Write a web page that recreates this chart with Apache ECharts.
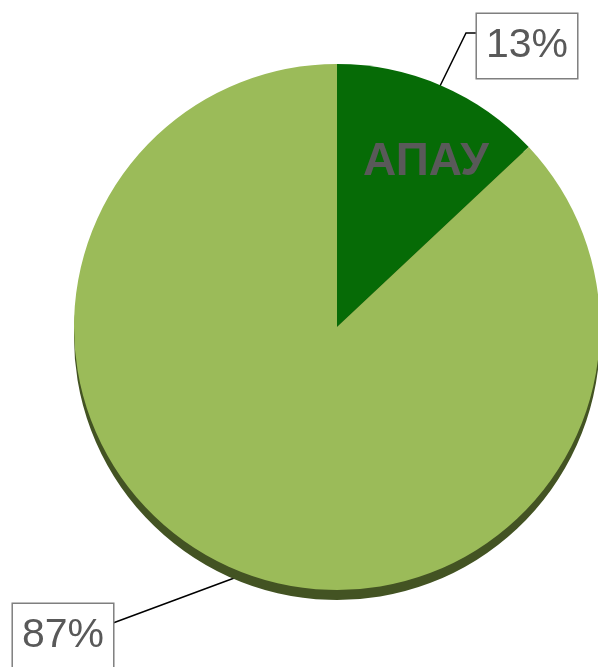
<!DOCTYPE html>
<html>
<head>
<meta charset="utf-8">
<script src="https://cdn.jsdelivr.net/npm/echarts@6/dist/echarts.min.js"></script>
<style>
  html, body { margin: 0; padding: 0; background: #fff; }
  #pieChart { width: 598px; height: 667px; }
</style>
</head>
<body>
<div id="pieChart"></div>
<script>
var categories = ['АПАУ', ''];
var values = [13, 87];
var sliceColors = ['#066b06', '#9bbb59'];

(function () {
    var dom = document.getElementById('pieChart');
    var myChart = echarts.init(dom);

    var pieData = categories.map(function (name, i) {
        return { name: name, value: values[i], itemStyle: { color: sliceColors[i] } };
    });

    // 外部百分比标签的位置和引线
    var outerLabels = [
        { x: 527, y: 46, line: [[440, 86], [466, 33], [478, 33]] },
        { x: 63, y: 636, line: [[237, 577], [175, 600], [113, 623]] }
    ];

    var option = {
        animation: false,
        series: [
            {
                type: 'pie',
                center: [337, 327],
                radius: 263,
                startAngle: 90,
                data: pieData,
                itemStyle: {
                    shadowColor: '#435323',
                    shadowOffsetY: 10,
                    shadowBlur: 0
                },
                label: {
                    show: true,
                    formatter: function (p) { return p.value + '%'; },
                    color: '#595959',
                    fontFamily: 'Liberation Sans',
                    fontSize: 41,
                    lineHeight: 46,
                    backgroundColor: '#fff',
                    borderColor: '#7f7f7f',
                    borderWidth: 1.5,
                    padding: [9, 9]
                },
                labelLine: {
                    show: true,
                    lineStyle: { color: '#000', width: 1.5 }
                },
                labelLayout: function (params) {
                    var l = outerLabels[params.dataIndex];
                    return {
                        x: l.x,
                        y: l.y,
                        align: 'center',
                        verticalAlign: 'middle',
                        labelLinePoints: l.line
                    };
                },
                emphasis: { disabled: true }
            },
            {
                type: 'pie',
                center: [337, 327],
                radius: 263,
                startAngle: 90,
                silent: true,
                data: categories.map(function (name, i) {
                    return { name: name, value: values[i] };
                }),
                itemStyle: { color: 'transparent' },
                label: {
                    show: true,
                    position: 'inside',
                    formatter: '{b}',
                    color: '#595959',
                    fontFamily: 'Liberation Sans',
                    fontWeight: 'bold',
                    fontSize: 46
                },
                labelLine: { show: false },
                labelLayout: function (params) {
                    if (params.dataIndex !== 0) return {};
                    return { x: 426, y: 162, align: 'center', verticalAlign: 'middle' };
                }
            }
        ]
    };

    if (option && typeof option === 'object') {
        myChart.setOption(option);
    }

    window.addEventListener('resize', function () {
        myChart.resize();
    });
})();
</script>
</body>
</html>
